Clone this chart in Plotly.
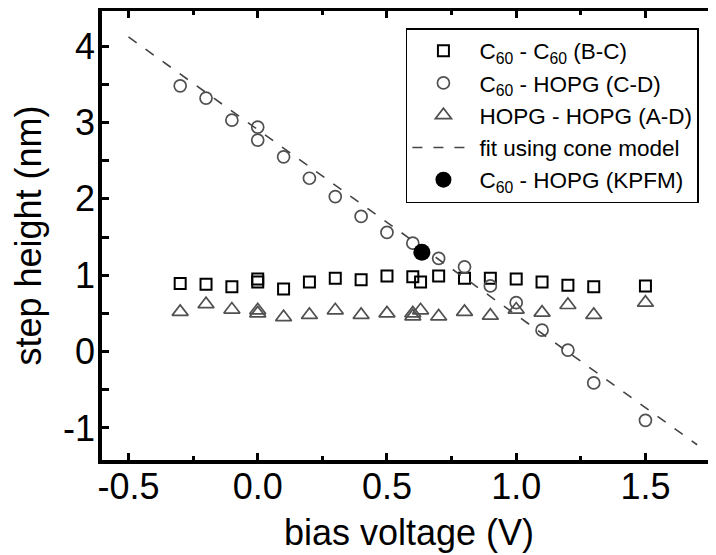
import plotly.graph_objects as go

# --- data ---
cc_x = [-0.3, -0.2, -0.1, 0.0, 0.0, 0.1, 0.2, 0.3, 0.4, 0.5, 0.6, 0.63, 0.7, 0.8, 0.9, 1.0, 1.1, 1.2, 1.3, 1.5]
cc_y = [0.89, 0.88, 0.85, 0.91, 0.95, 0.82, 0.91, 0.96, 0.94, 0.99, 0.98, 0.91, 0.99, 0.96, 0.96, 0.95, 0.91, 0.87, 0.85, 0.86]

ch_x = [-0.3, -0.2, -0.1, 0.0, 0.0, 0.1, 0.2, 0.3, 0.4, 0.5, 0.6, 0.7, 0.8, 0.9, 1.0, 1.1, 1.2, 1.3, 1.5]
ch_y = [3.48, 3.32, 3.03, 2.94, 2.77, 2.55, 2.27, 2.03, 1.77, 1.56, 1.42, 1.22, 1.11, 0.86, 0.64, 0.28, 0.02, -0.41, -0.90]

hh_x = [-0.3, -0.2, -0.1, 0.0, 0.0, 0.1, 0.2, 0.3, 0.4, 0.5, 0.6, 0.6, 0.63, 0.7, 0.8, 0.9, 1.0, 1.1, 1.2, 1.3, 1.5]
hh_y = [0.52, 0.62, 0.55, 0.54, 0.50, 0.45, 0.48, 0.54, 0.48, 0.50, 0.50, 0.46, 0.54, 0.46, 0.52, 0.47, 0.55, 0.51, 0.61, 0.48, 0.64]

fit_x = [-0.5, 1.70]
fit_y = [4.12, -1.22]

kpfm_x = [0.635]
kpfm_y = [1.30]

names = [
    "C<sub>60</sub> - C<sub>60</sub> (B-C)",
    "C<sub>60</sub> - HOPG (C-D)",
    "HOPG - HOPG (A-D)",
    "fit using cone model",
    "C<sub>60</sub> - HOPG (KPFM)",
]

FONT = "Arial, 'Liberation Sans', Helvetica, sans-serif"
GRAY = "#505050"

fig = go.Figure()
fig.add_trace(go.Scatter(x=cc_x, y=cc_y, mode="markers", name=names[0],
                         marker=dict(symbol="square-open", size=11, color="black",
                                     line=dict(width=2, color="black"))))
fig.add_trace(go.Scatter(x=ch_x, y=ch_y, mode="markers", name=names[1],
                         marker=dict(symbol="circle-open", size=12, color=GRAY,
                                     line=dict(width=1.7, color=GRAY))))
fig.add_trace(go.Scatter(x=hh_x, y=hh_y, mode="markers", name=names[2],
                         marker=dict(symbol="triangle-up-open", size=14, color=GRAY,
                                     line=dict(width=1.7, color=GRAY))))
fig.add_trace(go.Scatter(x=fit_x, y=fit_y, mode="lines", name=names[3],
                         line=dict(color="#444444", width=1.6, dash="10px,11px")))
fig.add_trace(go.Scatter(x=kpfm_x, y=kpfm_y, mode="markers", name=names[4],
                         marker=dict(symbol="circle", size=17, color="black")))

axis_common = dict(
    showline=True, linecolor="black", linewidth=3.5,
    ticks="inside", ticklen=7, tickwidth=2.5, tickcolor="black",
    showgrid=False, zeroline=False, automargin=False,
    tickfont=dict(family=FONT, size=36, color="black"),
)

fig.update_xaxes(
    **axis_common,
    range=[-0.6025, 1.773], tickmode="array",
    tickvals=[-0.5, 0.0, 0.5, 1.0, 1.5], ticktext=["-0.5", "0.0", "0.5", "1.0", "1.5"],
    mirror="ticks", ticklabelstandoff=-8,
    minor=dict(dtick=0.25, tick0=0, ticks="inside", ticklen=4, tickwidth=2.5, tickcolor="black"),
    title=dict(text="bias voltage (V)", font=dict(family=FONT, size=36, color="black")),
)
fig.update_yaxes(
    **axis_common,
    range=[-1.42, 4.46], tickmode="array",
    tickvals=[-1, 0, 1, 2, 3, 4], ticktext=["-1", "0", "1", "2", "3", "4"],
    mirror=False, ticklabelstandoff=-4,
    minor=dict(dtick=0.5, tick0=0, ticks="inside", ticklen=7, tickwidth=2.5, tickcolor="black"),
    title=dict(text="step height (nm)", font=dict(family=FONT, size=36, color="black")),
)

# page body has an 8px default margin; size the figure so it fills the window
fig.update_layout(
    width=708, height=547,
    margin=dict(l=94, r=0, t=3, b=95),
    paper_bgcolor="white", plot_bgcolor="white",
    font=dict(family=FONT, color="black"),
    legend=dict(
        x=0.495, y=0.962, xanchor="left", yanchor="top",
        bgcolor="white", bordercolor="black", borderwidth=1.5,
        font=dict(family=FONT, size=22.5, color="black"),
        itemwidth=62,
    ),
)

fig.write_html("out.html")
